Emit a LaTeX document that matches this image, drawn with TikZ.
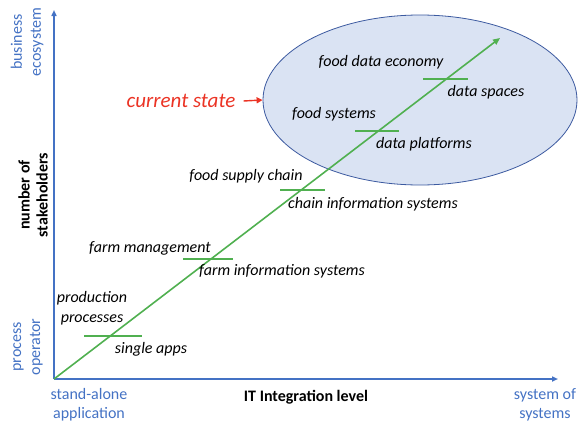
\documentclass[tikz,border=0pt]{standalone}
\usepackage{fontspec}
\setmainfont{Carlito}
\usetikzlibrary{arrows.meta,shapes.geometric}
\definecolor{axisblue}{RGB}{68,114,196}
\definecolor{rimblue}{RGB}{60,90,160}
\definecolor{linegreen}{RGB}{80,176,80}
\definecolor{cloudfill}{RGB}{218,227,243}
\definecolor{statered}{RGB}{235,51,36}
\tikzset{
	lbl/.style={font=\itshape\fontsize{16}{20}\selectfont, inner sep=0pt, align=center},
	axlbl/.style={text=axisblue, font=\fontsize{16}{19}\selectfont, inner sep=0pt, align=center},
	boldlbl/.style={font=\bfseries\fontsize{16}{17}\selectfont, inner sep=0pt, align=center},
	levelbar/.style={linegreen, line width=1.3pt},
}
\begin{document}
\begin{tikzpicture}[x=1pt,y=-1pt]
			\useasboundingbox (0,0) rectangle (582,423);
			% the cloud of the current state
			\node[ellipse, draw=rimblue, fill=cloudfill, line width=0.8pt, minimum width=314pt, minimum height=170pt, inner sep=0pt] (cloud) at (420,100) {};
			\coordinate (origin) at (54,379);
			\coordinate (ytop) at (54,10);
			\coordinate (xend) at (558,379);
			\coordinate (gtop) at (500,38);
			% axes
			\draw[axisblue, line width=1.5pt, -{Triangle[length=6pt,width=5pt]}] (origin) -- (ytop);
			\draw[axisblue, line width=1.5pt, -{Triangle[length=6pt,width=5pt]}] (origin) -- (xend);
			% integration path
			\draw[linegreen, line width=1.6pt, -{Triangle[length=7pt,width=6pt]}] (origin) -- (gtop);
			\foreach \xa/\xb/\yy in {84/142/336, 183/233/259, 280/325/190, 355/399/131, 423/468/79}
				\draw[levelbar] (\xa,\yy) -- (\xb,\yy);
			% stages
			\node[lbl] (prod) at (92,308) {production\\processes};
			\node[lbl] (apps) at (151,349) {single apps};
			\node[lbl] (farm) at (150,248) {farm management};
			\node[lbl] (farminfo) at (282,271) {farm information systems};
			\node[lbl] (chain) at (246,176) {food supply chain};
			\node[lbl] (chaininfo) at (373,204) {chain information systems};
			\node[lbl] (foodsys) at (334,114) {food systems};
			\node[lbl] (platforms) at (424,144) {data platforms};
			\node[lbl] (economy) at (381,62) {food data economy};
			\node[lbl] (spaces) at (486,92) {data spaces};
			% current state
			\node[text=statered, font=\itshape\fontsize{21}{24}\selectfont, inner sep=0pt] (state) at (181,101) {current state};
			\draw[statered, line width=1.4pt, -{Triangle[length=6pt,width=6pt]}] (state.east) ++(8,0) coordinate (sa) (sa) -- (cloud.west);
			% axis labels
			\node[axlbl, rotate=90] (eco) at (27,42) {business\\ecosystem};
			\node[boldlbl, rotate=90, font=\bfseries\fontsize{16}{18}\selectfont] (stake) at (33,195) {number of\\stakeholders};
			\node[axlbl, rotate=90] (oper) at (28,347) {process\\operator};
			\node[axlbl] (alone) at (89,405) {stand-alone\\application};
			\node[boldlbl] (level) at (306,397) {IT Integration level};
			\node[axlbl] (sos) at (545,405) {system of\\systems};
		\end{tikzpicture}
\end{document}
